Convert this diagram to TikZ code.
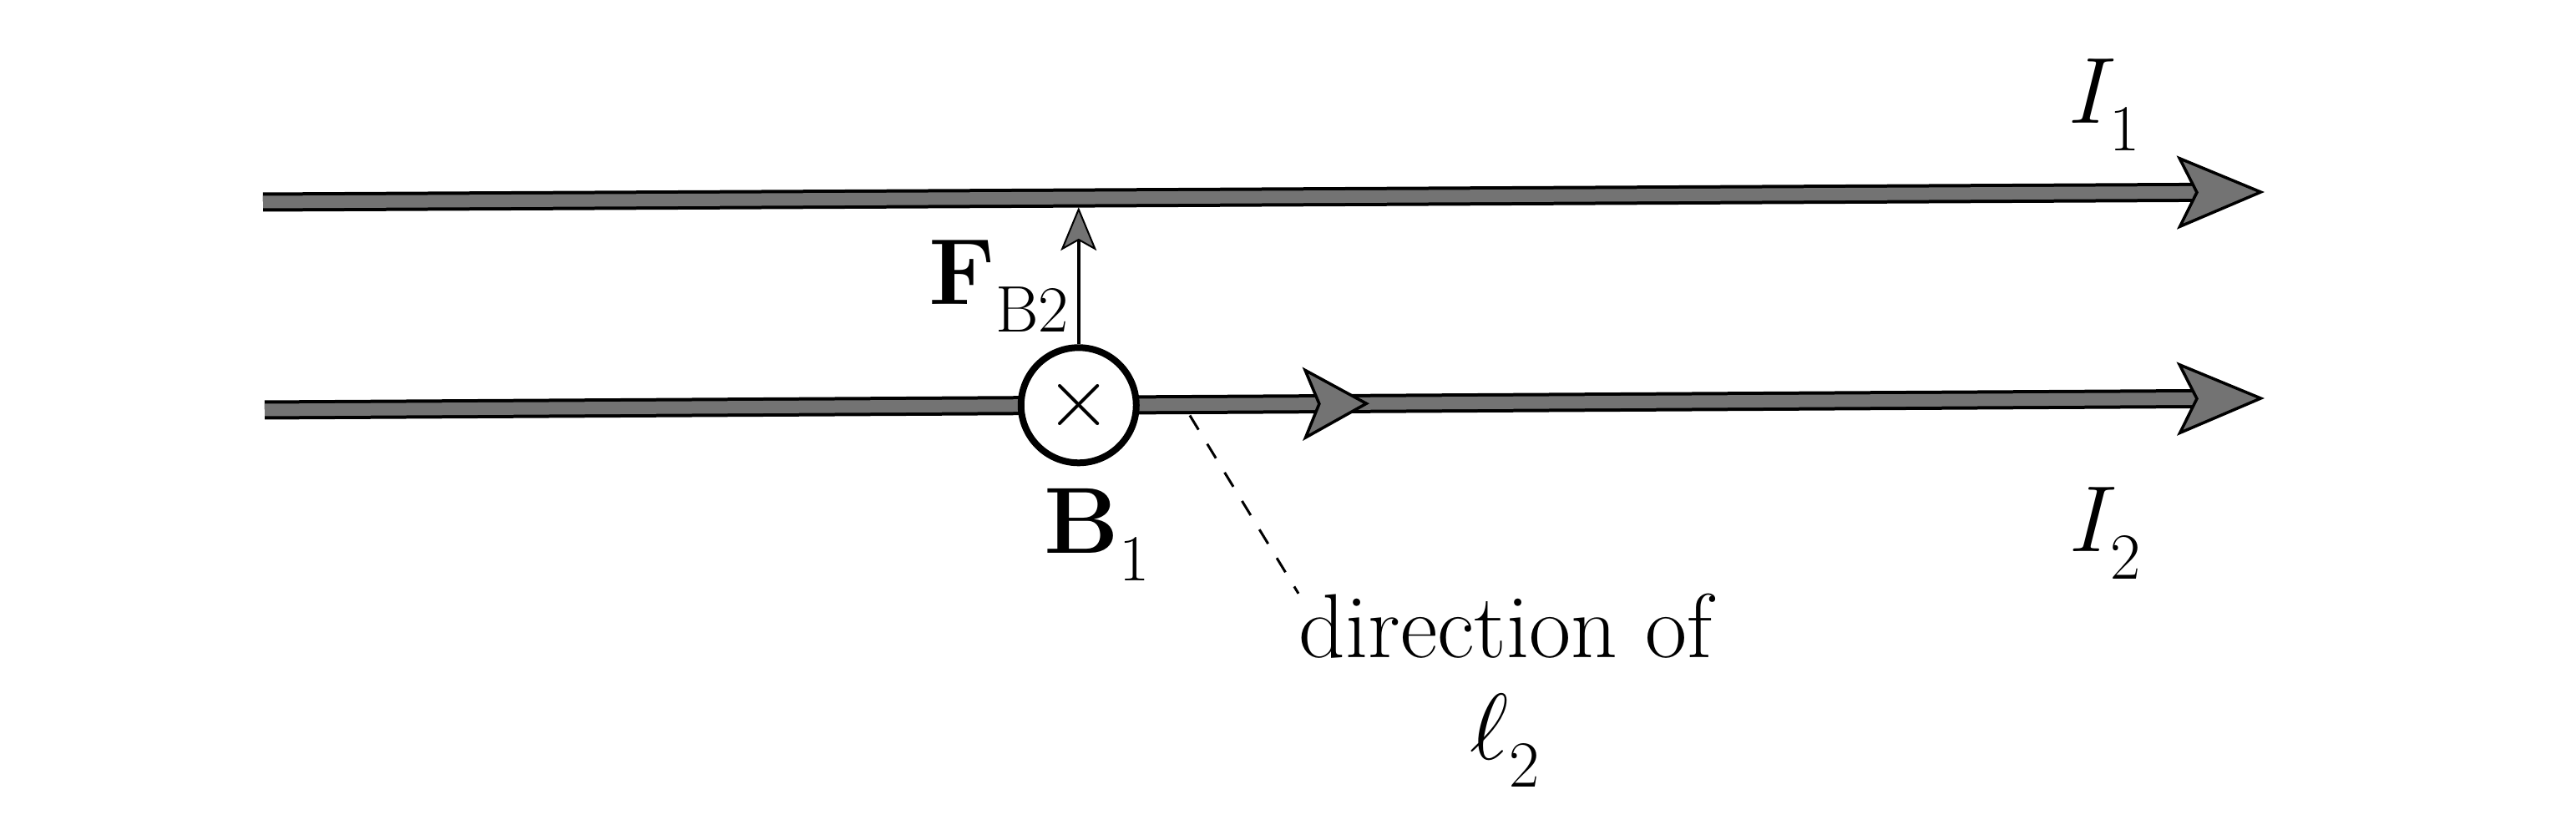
\documentclass[tikz,border=0pt]{standalone}
\usepackage{fix-cm}
\usepackage{amsmath}
\usetikzlibrary{arrows.meta,calc}

\newcommand{\lowsub}[1]{_{\raisebox{-4.5pt}{$\scriptstyle #1$}}}

\begin{document}
\begin{tikzpicture}[wire/.style = {line width=0.04cm, double=black!55, double distance=0.15cm, -{Stealth[length=1.05cm, width=0.88cm, inset=0.22cm, color=black, fill=black!55, line width=0.035cm]}},
    midwire/.style = {wire, -{Stealth[length=0.8cm, width=0.88cm, inset=0.18cm, color=black, fill=black!55, line width=0.035cm]}},
    force/.style = {line width=0.04cm, -{Stealth[length=0.52cm, width=0.43cm, inset=0.12cm, color=black, fill=black!55, line width=0.02cm]}},
    lbl/.style = {inner sep=0, anchor=base west, font=\fontsize{32}{38}\selectfont},
    txt/.style = {lbl, font=\fontsize{31}{37}\selectfont},
    leader/.style = {line width=0.03cm, dash pattern=on 0.2cm off 0.2cm}]

    \useasboundingbox (0,0) rectangle (30.85,-10);

    % wires
    \coordinate (w1a) at (3.15,-2.42);
    \coordinate (w1b) at (27.12,-2.30);
    \coordinate (w2a) at (3.17,-4.91);
    \coordinate (w2b) at (27.12,-4.77);
    \coordinate (w2m) at ($(w2a)!0.5524!(w2b)$);
    \coordinate (w2n) at ($(w2a)!0.54!(w2b)$);

    \draw[wire] (w1a) -- (w1b);
    \draw[wire] (w2n) -- (w2b);
    \draw[midwire] (w2a) -- (w2m);

    % field into the page
    \node[circle, draw, line width=0.08cm, fill=white, minimum size=1.38cm, inner sep=0, font=\fontsize{29}{34}\selectfont] (b1c) at ($(w2a)!0.407!(w2b)$) {$\times$};

    % force on wire 2
    \coordinate (ftop) at ($(w1a)!0.408!(w1b)+(0,-0.11)$);
    \draw[force] (b1c.north) -- (b1c.north |- ftop);

    % labels
    \node[lbl] (fb2) at (11.12,-3.65) {$\mathbf{F}\lowsub{\mathrm{B2}}$};
    \node[lbl] (b1) at (12.50,-6.63) {$\mathbf{B}\lowsub{1}$};
    \node[lbl] (i1) at (24.77,-1.48) {$I\lowsub{1}$};
    \node[lbl] (i2) at (24.78,-6.61) {$I\lowsub{2}$};
    \node[txt] (dir) at (15.55,-7.88) {direction of};
    \node[lbl, anchor=base] (ell) at ($(dir.base)+(0,-1.22)$) {$\ell\lowsub{2}$};

    % leader
    \coordinate (lead) at ($(w2a)!0.4626!(w2b)+(0,-0.13)$);
    \draw[leader] (lead) -- (dir.north west);

\end{tikzpicture}
\end{document}
